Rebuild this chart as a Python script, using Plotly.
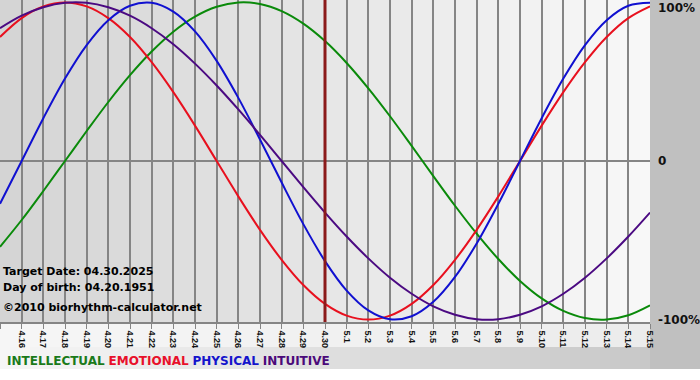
import plotly.graph_objects as go

# ---- data ----
dates = ["4.15", "4.16", "4.17", "4.18", "4.19", "4.20", "4.21", "4.22", "4.23", "4.24",
         "4.25", "4.26", "4.27", "4.28", "4.29", "4.30", "5.1", "5.2", "5.3", "5.4",
         "5.5", "5.6", "5.7", "5.8", "5.9", "5.10", "5.11", "5.12", "5.13", "5.14", "5.15"]

physical = [-0.270, 0.000, 0.270, 0.520, 0.731, 0.888, 0.979, 0.998, 0.942, 0.817,
            0.631, 0.398, 0.136, -0.136, -0.398, -0.631, -0.817, -0.942, -0.998, -0.979,
            -0.888, -0.731, -0.520, -0.270, 0.000, 0.270, 0.520, 0.731, 0.888, 0.979, 0.998]

emotional = [0.782, 0.901, 0.975, 1.000, 0.975, 0.901, 0.782, 0.623, 0.434, 0.223,
             0.000, -0.223, -0.434, -0.623, -0.782, -0.901, -0.975, -1.000, -0.975, -0.901,
             -0.782, -0.623, -0.434, -0.223, 0.000, 0.223, 0.434, 0.623, 0.782, 0.901, 0.975]

intellectual = [-0.541, -0.372, -0.189, 0.000, 0.189, 0.372, 0.541, 0.690, 0.815, 0.910,
                0.972, 0.999, 0.990, 0.945, 0.866, 0.756, 0.618, 0.458, 0.282, 0.095,
                -0.095, -0.282, -0.458, -0.618, -0.756, -0.866, -0.945, -0.990, -0.999, -0.972, -0.910]

intuitive = [0.837, 0.916, 0.969, 0.997, 0.997, 0.969, 0.916, 0.837, 0.736, 0.614,
             0.476, 0.325, 0.165, 0.000, -0.165, -0.325, -0.476, -0.614, -0.736, -0.837,
             -0.916, -0.969, -0.997, -0.997, -0.969, -0.916, -0.837, -0.736, -0.614, -0.476, -0.325]

series_names = ["INTELLECTUAL", "EMOTIONAL", "PHYSICAL", "INTUITIVE"]
series_values = [intellectual, emotional, physical, intuitive]
line_colors = ["#0a8a0a", "#e8101e", "#1010d0", "#4b0a82"]
legend_colors = ["#1a7a1a", "#e8102a", "#1414cc", "#4b0a7a"]

y_tick_vals = [1, 0, -1]
y_tick_text = ["100%", "0", "-100%"]

target_label = "4.30"
info_lines = ["Target Date: 04.30.2025", "Day of birth: 04.20.1951", "\u00a92010 biorhythm-calculator.net"]

# ---- figure ----
W, H = 700, 380
PLOT_H = 322
PLOT_W = 650

fig = go.Figure()
x_idx = list(range(len(dates)))
for name, vals, col in zip(series_names, series_values, line_colors):
    fig.add_trace(go.Scatter(x=x_idx, y=vals, mode="lines", name=name,
                             line=dict(color=col, width=2, shape="spline", smoothing=1.0),
                             hoverinfo="skip", showlegend=False))

shapes = []
n = 65
# plot-area horizontal gradient
for i in range(n):
    g = int(round(212 + (248 - 212) * i / (n - 1)))
    shapes.append(dict(type="rect", xref="paper", yref="paper",
                       x0=i / n, x1=(i + 1) / n + 0.001, y0=0, y1=1,
                       fillcolor=f"rgb({g},{g},{g})", line=dict(width=0), layer="below"))
# tick-label strip
for i in range(n):
    g = int(round(246 + (236 - 246) * i / (n - 1)))
    shapes.append(dict(type="rect", xref="paper", yref="paper",
                       x0=i / n, x1=(i + 1) / n + 0.001, y0=-25 / PLOT_H, y1=0,
                       fillcolor=f"rgb({g},{g},{g})", line=dict(width=0), layer="below"))
# legend strip gradient
for i in range(n):
    g = int(round(246 + (200 - 246) * i / (n - 1)))
    shapes.append(dict(type="rect", xref="paper", yref="paper",
                       x0=i / n, x1=(i + 1) / n + 0.001, y0=-47 / PLOT_H, y1=-25 / PLOT_H,
                       fillcolor=f"rgb({g},{g},{g})", line=dict(width=0), layer="below"))
# right gray strip
shapes.append(dict(type="rect", xref="paper", yref="paper",
                   x0=1, x1=W / PLOT_W, y0=-47 / PLOT_H, y1=1,
                   fillcolor="#c0c0c0", line=dict(width=0), layer="below"))
# target date line
ti = dates.index(target_label)
shapes.append(dict(type="line", xref="x", yref="paper", x0=ti, x1=ti, y0=0, y1=1,
                   line=dict(color="#8b1a1a", width=3), layer="above"))

annotations = []
for v, t in zip(y_tick_vals, y_tick_text):
    if v == 1:
        annotations.append(dict(x=1, xref="paper", y=1, yref="paper", text=f"<b>{t}</b>",
                                showarrow=False, xanchor="left", yanchor="top", xshift=6, yshift=1,
                                font=dict(family="DejaVu Sans", size=12, color="#111")))
    else:
        annotations.append(dict(x=1, xref="paper", y=v, yref="y", text=f"<b>{t}</b>",
                                showarrow=False, xanchor="left", yanchor="middle", xshift=6,
                                font=dict(family="DejaVu Sans", size=12, color="#111")))

info_y = [271, 287, 307]
for t, py in zip(info_lines, info_y):
    annotations.append(dict(x=0, xref="paper", y=(PLOT_H - py) / PLOT_H, yref="paper",
                            text=f"<b>{t}</b>", showarrow=False, xanchor="left", yanchor="middle",
                            xshift=1, font=dict(family="DejaVu Sans", size=11, color="#000")))

legend_text = " ".join(f"<span style='color:{c}'><b>{n}</b></span>"
                       for n, c in zip(series_names, legend_colors))
annotations.append(dict(x=0, xref="paper", y=(PLOT_H - 361) / PLOT_H, yref="paper",
                        text=legend_text, showarrow=False, xanchor="left", yanchor="middle",
                        xshift=5, font=dict(family="DejaVu Sans", size=12, color="#000")))

fig.update_layout(
    width=W, height=H,
    margin=dict(l=0, r=W - PLOT_W, t=0, b=H - PLOT_H),
    paper_bgcolor="#ffffff",
    plot_bgcolor="rgba(0,0,0,0)",
    shapes=shapes,
    annotations=annotations,
    showlegend=False,
    xaxis=dict(range=[0, len(dates) - 1], tickvals=x_idx,
               ticktext=[f"<b>{d}</b>" for d in dates], tickangle=90,
               showgrid=True, gridcolor="#858585", gridwidth=1.5,
               ticks="outside", ticklen=5, tickcolor="#858585", tickwidth=1,
               showline=True, linecolor="#858585", linewidth=1.5,
               tickfont=dict(family="Liberation Sans", size=9, color="#111"),
               zeroline=False, fixedrange=True),
    yaxis=dict(range=[-1.015, 1.015], showgrid=False, showticklabels=False,
               zeroline=True, zerolinecolor="#858585", zerolinewidth=1.5,
               fixedrange=True),
)

fig.write_html("out.html", config={"displayModeBar": False},
               post_script="document.body.style.margin='0';document.body.style.padding='0';"
                           "document.documentElement.style.overflow='hidden';")
